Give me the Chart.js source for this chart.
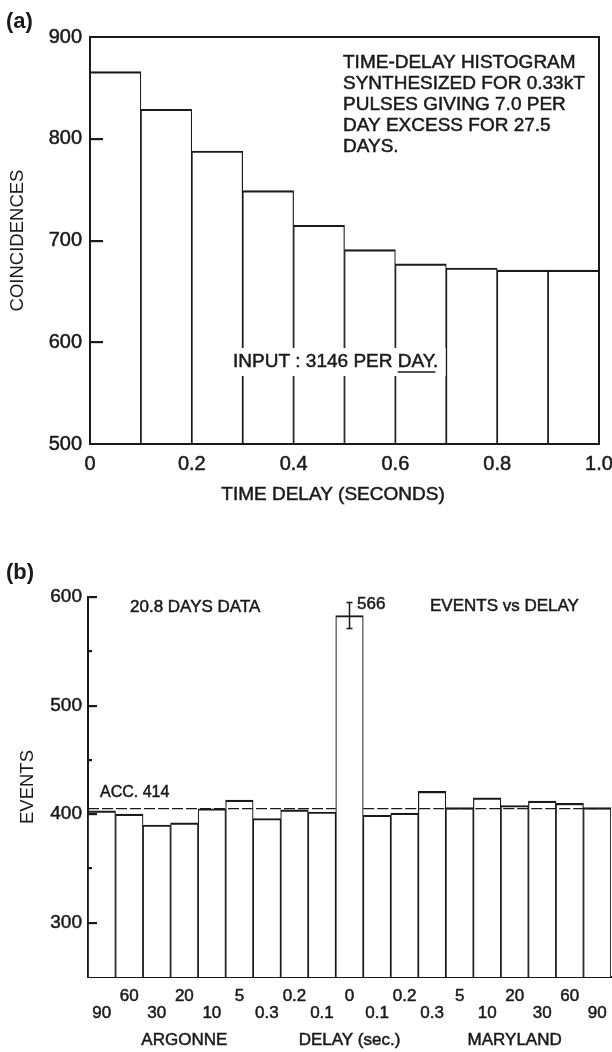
<!DOCTYPE html>
<html>
<head>
<meta charset="utf-8">
<script src="https://cdn.jsdelivr.net/npm/chart.js@4.4.1/dist/chart.umd.min.js"></script>
<style>
  body { margin: 0; background: #fff; }
  #wrap { position: relative; width: 612px; height: 1052px; }
  canvas { position: absolute; left: 0; }
</style>
</head>
<body>
<div id="wrap">
  <canvas id="chartA" width="612" height="520" style="top:0"></canvas>
  <canvas id="chartB" width="612" height="532" style="top:520px"></canvas>
</div>
<script>
// ======= DADOS (a) =======
const binStarts = ["0.0", "0.1", "0.2", "0.3", "0.4", "0.5", "0.6", "0.7", "0.8", "0.9"];
const coincidences = [866, 829, 788, 749, 715, 691, 677, 673, 671, 671];
const timeTicks = ["0", "0.2", "0.4", "0.6", "0.8", "1.0"];
const noteLines = [
  "TIME-DELAY HISTOGRAM",
  "SYNTHESIZED FOR 0.33kT",
  "PULSES GIVING 7.0 PER",
  "DAY EXCESS FOR 27.5",
  "DAYS."
];

// ======= DADOS (b) =======
const delayLabels = ["90", "60", "30", "20", "10", "5", "0.3", "0.2", "0.1", "0",
                     "0.1", "0.2", "0.3", "5", "10", "20", "30", "60", "90"];
const events = [403, 400, 390, 392, 405, 413, 396, 404, 402, 583,
                399, 401, 421, 406, 415, 408, 412, 410, 406];
const accLevel = 405;
const peakIndex = 9;
const peakError = 12;
const siteNames = ["ARGONNE", "DELAY (sec.)", "MARYLAND"];
const siteIndex = [3, 9, 15];

const INK = "#1a1a1a";
const FONT = "'Liberation Sans', Arial, sans-serif";
const barBorder = { left: 1.2, right: 1.2, top: 2.2, bottom: 0 };

function txt(ctx, s, x, y, size, align, weight) {
  ctx.save();
  ctx.font = (weight || "normal") + " " + size + "px " + FONT;
  ctx.fillStyle = INK;
  ctx.strokeStyle = INK;
  ctx.lineWidth = 0.5;
  ctx.textAlign = align || "left";
  ctx.textBaseline = "middle";
  ctx.fillText(s, x, y);
  if (!weight) ctx.strokeText(s, x, y);
  ctx.restore();
}

// ticks para dentro do gráfico (a partir dos valores da escala)
function innerTicks(chart, len, minorLen) {
  const { ctx, chartArea } = chart;
  const y = chart.scales.y;
  ctx.save();
  ctx.fillStyle = INK;
  y.ticks.forEach(t => {
    const v = Number(t.value);
    if (v <= y.min || v >= y.max) return;
    const l = Math.abs(v % 100) < 1e-6 ? len : minorLen;
    const py = Math.round(y.getPixelForValue(v));
    ctx.fillRect(chartArea.left, py - 1, l, 2.2);
  });
  ctx.restore();
}

const noSidePad = s => { s.paddingLeft = 0; s.paddingRight = 0; };

// ======= GRÁFICO (a) =======
const extrasA = {
  id: "extrasA",
  afterDatasetsDraw(chart) {
    const { ctx, chartArea } = chart;
    ctx.save();
    ctx.strokeStyle = INK;
    ctx.lineWidth = 2;
    ctx.strokeRect(chartArea.left, chartArea.top, chartArea.right - chartArea.left, chartArea.bottom - chartArea.top);
    ctx.restore();

    // anotação
    noteLines.forEach((s, i) => txt(ctx, s, 343, 63 + i * 21, 19));

    // caixa INPUT
    ctx.save();
    ctx.font = "19px " + FONT;
    const a = "INPUT : 3146 PER ", b = "DAY", c = ".";
    const wa = ctx.measureText(a).width, wb = ctx.measureText(b).width, wc = ctx.measureText(c).width;
    ctx.fillStyle = "#fff";
    ctx.fillRect(228, 348, wa + wb + wc + 10, 28);
    ctx.restore();
    txt(ctx, a + b + c, 233, 362, 19);
    ctx.save();
    ctx.strokeStyle = INK;
    ctx.lineWidth = 1.5;
    ctx.beginPath();
    ctx.moveTo(233 + wa, 372);
    ctx.lineTo(233 + wa + wb, 372);
    ctx.stroke();
    ctx.restore();

    txt(ctx, "(a)", 6, 22, 22, "left", "bold");
    txt(ctx, "TIME DELAY (SECONDS)", 333, 495, 19, "center");
  },
  afterDraw(chart) {
    innerTicks(chart, 13, 13);
  }
};

new Chart(document.getElementById("chartA"), {
  type: "bar",
  data: {
    labels: binStarts,
    datasets: [{
      data: coincidences,
      backgroundColor: "#fff",
      borderColor: INK,
      borderWidth: barBorder,
      barPercentage: 1,
      categoryPercentage: 1,
      xAxisID: "x",
      yAxisID: "y"
    }]
  },
  options: {
    responsive: false,
    animation: false,
    devicePixelRatio: 1,
    layout: { padding: { top: 37, right: 13, left: 0, bottom: 0 } },
    plugins: { legend: { display: false }, tooltip: { enabled: false } },
    scales: {
      x: { type: "category", display: false },
      xt: {
        type: "linear", position: "bottom", min: 0, max: 1, offset: false,
        grid: { display: false, drawTicks: false, offset: false },
        border: { display: false },
        ticks: {
          stepSize: 0.2, padding: 8, color: INK, maxRotation: 0,
          textStrokeColor: INK, textStrokeWidth: 0.5,
          font: { family: FONT, size: 20 },
          callback: (v, i) => timeTicks[i]
        },
        afterFit: s => { s.height = 76; noSidePad(s); }
      },
      y: {
        min: 500, max: 900,
        grid: { display: false, drawTicks: false },
        border: { display: true, color: INK, width: 2 },
        ticks: {
          stepSize: 100, padding: 8, color: INK,
          textStrokeColor: INK, textStrokeWidth: 0.5,
          font: { family: FONT, size: 20 }
        },
        title: { display: true, text: "COINCIDENCES", color: INK, font: { family: FONT, size: 18.5 }, padding: { top: 7, bottom: 0 } },
        afterFit: s => { s.width = 90; }
      }
    }
  },
  plugins: [extrasA]
});

// ======= GRÁFICO (b) =======
const extrasB = {
  id: "extrasB",
  afterDatasetsDraw(chart) {
    const { ctx, chartArea } = chart;
    const x = chart.scales.x, y = chart.scales.y;

    // linha ACC, interrompida pela barra central
    const peak = chart.getDatasetMeta(0).data[peakIndex];
    const ya = y.getPixelForValue(accLevel);
    ctx.save();
    ctx.strokeStyle = INK;
    ctx.lineWidth = 1.2;
    ctx.setLineDash([11, 3]);
    ctx.beginPath();
    ctx.moveTo(chartArea.left, ya);
    ctx.lineTo(peak.x - peak.width / 2, ya);
    ctx.moveTo(peak.x + peak.width / 2, ya);
    ctx.lineTo(chartArea.right, ya);
    ctx.stroke();
    ctx.setLineDash([]);

    // barra de erro
    const yHi = y.getPixelForValue(events[peakIndex] + peakError);
    const yLo = y.getPixelForValue(events[peakIndex] - peakError);
    ctx.lineWidth = 1.5;
    ctx.beginPath();
    ctx.moveTo(peak.x, yHi); ctx.lineTo(peak.x, yLo);
    ctx.moveTo(peak.x - 3, yHi); ctx.lineTo(peak.x + 3, yHi);
    ctx.moveTo(peak.x - 3, yLo); ctx.lineTo(peak.x + 3, yLo);
    ctx.stroke();
    ctx.restore();

    txt(ctx, "(b)", 6, 53, 22, "left", "bold");
    txt(ctx, "20.8 DAYS DATA", 130, 87, 17);
    txt(ctx, "EVENTS vs DELAY", 430, 86, 17);
    txt(ctx, "566", 357, 84, 17);
    txt(ctx, "ACC. 414", 100, 273, 16);

    siteNames.forEach((s, i) => txt(ctx, s, x.getPixelForValue(siteIndex[i]), 520, 17, "center"));
  },
  afterDraw(chart) {
    innerTicks(chart, 9, 4);
    // marca do topo (600)
    const { ctx, chartArea } = chart;
    ctx.save();
    ctx.fillStyle = INK;
    ctx.fillRect(chartArea.left, Math.round(chart.scales.y.getPixelForValue(chart.scales.y.max)) - 1, 9, 2.2);
    ctx.restore();
  }
};

new Chart(document.getElementById("chartB"), {
  type: "bar",
  data: {
    labels: delayLabels,
    datasets: [{
      data: events,
      backgroundColor: "#fff",
      borderColor: INK,
      borderWidth: barBorder,
      barPercentage: 1,
      categoryPercentage: 1
    }]
  },
  options: {
    responsive: false,
    animation: false,
    devicePixelRatio: 1,
    layout: { padding: { top: 77, right: 1, left: 0, bottom: 0 } },
    plugins: { legend: { display: false }, tooltip: { enabled: false } },
    scales: {
      x: {
        grid: { display: false, drawTicks: false },
        border: { display: true, color: INK, width: 2 },
        ticks: {
          autoSkip: false, maxRotation: 0, minRotation: 0, padding: 11, color: INK,
          textStrokeColor: INK, textStrokeWidth: 0.5,
          font: { family: FONT, size: 17, lineHeight: 1 },
          callback: (v, i) => (i % 2 === 1 ? [delayLabels[i], ""] : ["", delayLabels[i]])
        },
        afterFit: s => { s.height = 75; noSidePad(s); }
      },
      y: {
        min: 250, max: 600,
        grid: { display: false, drawTicks: false },
        border: { display: true, color: INK, width: 2 },
        ticks: {
          stepSize: 50, padding: 6, color: INK,
          textStrokeColor: INK, textStrokeWidth: 0.5,
          font: { family: FONT, size: 19 },
          callback: v => (v % 100 === 0 ? v : "")
        },
        title: { display: true, text: "EVENTS", color: INK, font: { family: FONT, size: 18.5 }, padding: { top: 17, bottom: 0 } },
        afterFit: s => { s.width = 88; }
      }
    }
  },
  plugins: [extrasB]
});
</script>
</body>
</html>
